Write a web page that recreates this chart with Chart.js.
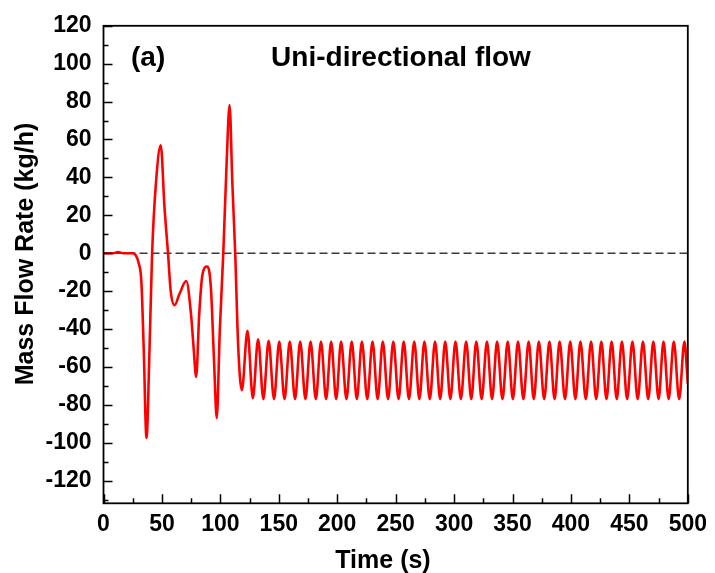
<!DOCTYPE html>
<html>
<head>
<meta charset="utf-8">
<script src="https://cdn.jsdelivr.net/npm/chart.js@4/dist/chart.umd.min.js"></script>
<style>
  html, body { margin: 0; padding: 0; background: #ffffff; }
  #wrap { width: 715px; height: 573px; }
</style>
</head>
<body>
<div id="wrap"><canvas id="flowChart" width="715" height="573"></canvas></div>
<script>
// Start-up transient: time (s) and mass flow rate (kg/h)
const transientTime = [0, 8, 12.5, 17, 25, 28, 30, 32.4, 34.4, 36.8, 39.4, 41.6, 45, 49, 52.2, 55.2, 57.5, 60.9, 64.9, 70.8, 74.9, 77.1, 79.3, 81.9, 84.7, 88.7, 91.9, 94.7, 96.9, 99.5, 102.5, 105.3, 107.9, 110.2, 112.7, 115.3, 118.4, 123.2, 127.8];
const transientFlow = [0, 0, 0.6, 0, 0, -1.5, -5, -15, -50, -97.5, -50, 0, 38, 57, 24, 0, -20, -27.4, -21.7, -14.7, -32.3, -49.8, -65.3, -32.3, -11.2, -7, -18.2, -58.6, -87, -41, 0, 46.7, 78.2, 37.9, 0, -49.8, -72.3, -41, -76.5];

// Sustained oscillation: crests
const peakTime = [132.3, 141.3, 150.4, 159.4, 168.3, 177.2, 186.1, 194.8, 203.3, 212.4, 221.1, 230.2, 239.0, 248.0, 256.9, 265.9, 274.6, 283.7, 292.4, 301.2, 310.3, 319.0, 328.1, 336.8, 345.9, 354.7, 363.8, 372.5, 381.6, 390.3, 399.4, 408.1, 417.2, 426.0, 434.8, 443.6, 452.6, 461.6, 470.5, 479.2, 488.0, 497.1];
const peakFlow = [-45.4, -46.3, -46.6, -46.6, -46.6, -46.6, -46.6, -46.6, -46.6, -46.6, -46.6, -46.6, -46.6, -46.6, -46.6, -46.6, -46.6, -46.6, -46.6, -46.6, -46.6, -46.6, -46.6, -46.6, -46.6, -46.6, -46.6, -46.6, -46.6, -46.6, -46.6, -46.6, -46.6, -46.6, -46.6, -46.6, -46.6, -46.6, -46.6, -46.6, -46.6, -46.6];

// Sustained oscillation: troughs
const troughTime = [136.8, 145.9, 154.9, 163.9, 172.8, 181.7, 190.5, 199.1, 207.9, 216.8, 225.7, 234.6, 243.5, 252.5, 261.4, 270.3, 279.2, 288.1, 296.8, 305.8, 314.7, 323.6, 332.5, 341.4, 350.3, 359.3, 368.2, 377.1, 386.0, 394.9, 403.8, 412.7, 421.6, 430.4, 439.2, 448.1, 457.1, 466.1, 475.0, 483.6, 492.6];
const troughFlow = [-77, -77, -77, -77, -77, -77, -77, -77, -77, -77, -77, -77, -77, -77, -77, -77, -77, -77, -77, -77, -77, -77, -77, -77, -77, -77, -77, -77, -77, -77, -77, -77, -77, -77, -77, -77, -77, -77, -77, -77, -77];

// Last recorded sample
const endTime = [500];
const endFlow = [-69];

// Axis ticks
const xTicks = [0, 50, 100, 150, 200, 250, 300, 350, 400, 450, 500];
const xMinorTicks = [25, 75, 125, 175, 225, 275, 325, 375, 425, 475];
const yTicks = [-120, -100, -80, -60, -40, -20, 0, 20, 40, 60, 80, 100, 120];
const yMinorTicks = [-130, -110, -90, -70, -50, -30, -10, 10, 30, 50, 70, 90, 110];

const panelLabel = '(a)';
const panelTitle = 'Uni-directional flow';
const xTitle = 'Time (s)';
const yTitle = 'Mass Flow Rate (kg/h)';

function pairs(ts, vs) { return ts.map((t, i) => ({ x: t, y: vs[i] })); }
const flowPoints = []
  .concat(pairs(transientTime, transientFlow))
  .concat(pairs(peakTime, peakFlow))
  .concat(pairs(troughTime, troughFlow))
  .concat(pairs(endTime, endFlow))
  .sort((a, b) => a.x - b.x);

const FONT = '"Liberation Sans", Arial, Helvetica, sans-serif';

// Frame, inward ticks, panel captions and axis titles
const decorations = {
  id: 'decorations',
  afterDraw(chart) {
    const { ctx, chartArea: a, scales: { x, y } } = chart;
    ctx.save();
    ctx.strokeStyle = '#000000';
    ctx.lineWidth = 1.8;
    ctx.strokeRect(a.left, a.top, a.right - a.left, a.bottom - a.top);

    ctx.lineWidth = 1.5;
    ctx.beginPath();
    xTicks.forEach(v => { const p = Math.round(x.getPixelForValue(v)) + 0.5; ctx.moveTo(p, a.bottom); ctx.lineTo(p, a.bottom - 9); });
    xMinorTicks.forEach(v => { const p = Math.round(x.getPixelForValue(v)) + 0.5; ctx.moveTo(p, a.bottom); ctx.lineTo(p, a.bottom - 5); });
    yTicks.forEach(v => { const p = Math.round(y.getPixelForValue(v)) + 0.5; ctx.moveTo(a.left, p); ctx.lineTo(a.left + 9, p); });
    yMinorTicks.forEach(v => { const p = Math.round(y.getPixelForValue(v)) + 0.5; ctx.moveTo(a.left, p); ctx.lineTo(a.left + 5, p); });
    ctx.stroke();

    ctx.fillStyle = '#000000';
    ctx.font = 'bold 28px ' + FONT;
    ctx.textBaseline = 'alphabetic';
    ctx.textAlign = 'left';
    ctx.fillText(panelLabel, 131, 66);
    ctx.textAlign = 'center';
    ctx.fillText(panelTitle, 401, 66);

    ctx.font = 'bold 25px ' + FONT;
    ctx.fillText(xTitle, 383, 568);
    ctx.translate(33, 254);
    ctx.rotate(-Math.PI / 2);
    ctx.fillText(yTitle, 0, 0);
    ctx.restore();
  }
};

new Chart(document.getElementById('flowChart'), {
  type: 'line',
  data: {
    datasets: [
      {
        label: 'flow',
        data: flowPoints,
        borderColor: '#ff0000',
        borderWidth: 2.6,
        pointRadius: 0,
        fill: false,
        cubicInterpolationMode: 'monotone',
        order: 1
      },
      {
        label: 'zero',
        data: [{ x: 0, y: 0 }, { x: 500, y: 0 }],
        borderColor: '#3a3a3a',
        borderWidth: 1.5,
        borderDash: [8, 4],
        pointRadius: 0,
        fill: false,
        order: 2
      }
    ]
  },
  options: {
    responsive: false,
    animation: false,
    devicePixelRatio: 1,
    layout: { padding: { left: 0, right: 22.5, top: 24, bottom: 0 } },
    plugins: { legend: { display: false }, tooltip: { enabled: false }, title: { display: false } },
    scales: {
      x: {
        type: 'linear',
        min: 0,
        max: 500,
        afterBuildTicks: s => { s.ticks = xTicks.map(v => ({ value: v })); },
        afterFit: s => { s.height = 69.7; },
        grid: { display: false, drawTicks: false },
        border: { display: false },
        ticks: { color: '#000000', padding: 8, maxRotation: 0, autoSkip: false, font: { family: FONT, size: 23, weight: 'bold' } }
      },
      y: {
        type: 'linear',
        min: -132,
        max: 120,
        afterBuildTicks: s => { s.ticks = yTicks.map(v => ({ value: v })); },
        afterFit: s => { s.width = 103.5; },
        grid: { display: false, drawTicks: false },
        border: { display: false },
        ticks: { color: '#000000', padding: 12, autoSkip: false, font: { family: FONT, size: 23, weight: 'bold' } }
      }
    }
  },
  plugins: [decorations]
});
</script>
</body>
</html>
